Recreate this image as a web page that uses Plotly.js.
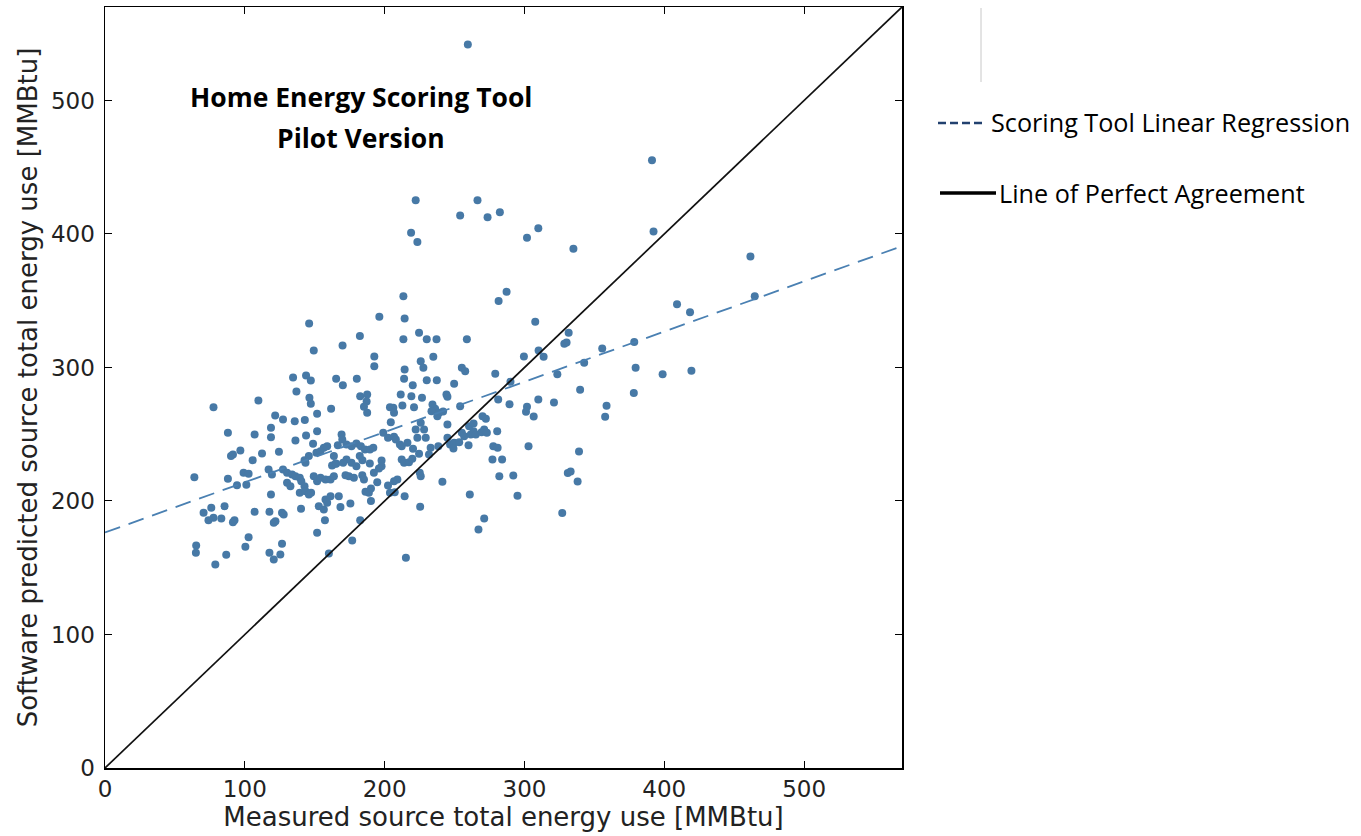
<!DOCTYPE html>
<html>
<head>
<meta charset="utf-8">
<script src="https://cdn.plot.ly/plotly-3.0.1.min.js"></script>
<style>body{margin:0;padding:0;background:#fff;}#chart{width:1361px;height:836px;}</style>
</head>
<body>
<div id="chart"></div>
<script>
// Measured (x) vs software predicted (y) source total energy use [MMBtu]
const pts = [
[391.2,455.3],[392.3,401.9],[461.6,383.1],[464.7,353.4],[409.1,347.4],[418.4,341.4],[419.4,297.5],[398.8,295],[379.5,299.8],[378.5,319],
[378.2,280.8],[355.6,314.2],[358.7,271.3],[357.7,263.1],[342.7,303.5],[339.8,283.3],[331.6,326],[330.1,318.7],[328.5,317.8],[323.5,295],
[321.1,273.8],[307.7,334.2],[313.7,308],[310.1,312.7],[299.6,308.2],[309.9,276],[301.8,270.6],[301.1,266.8],[306.6,263.3],[302.9,241],
[289.3,272.5],[281.2,276],[279.1,295.3],[290,289.3],[287.2,356.7],[281.5,349.7],[335,388.9],[309.9,404.3],[301.8,397.2],[282.4,416.3],
[273.6,412.6],[266.4,425.3],[222.2,425.3],[254,413.9],[218.9,400.9],[223.4,393.9],[213.4,353.4],[214.3,336.7],[224.6,326],[230.1,321.2],
[237.1,321.2],[213.4,321.2],[258.8,321.2],[234.8,308],[225.8,304.7],[227.7,299.8],[214.3,298.5],[213.9,291.5],[230.1,290.5],[237.3,290.5],
[255.2,299.8],[257.6,297.2],[249.7,287.8],[220.1,286.7],[211.5,279.8],[219.1,278.5],[226.7,277.3],[244.2,279.8],[244.9,278],[212.7,271.5],
[221,270.3],[234.2,272.3],[236.1,269.1],[233.5,267.3],[238.9,266.1],[241.8,267],[237.7,263.5],[254,271],[270,263.5],[272.4,261.6],
[280.5,252.3],[216.3,243.6],[220.3,239.1],[222.2,253.6],[228.2,253.6],[223.4,247.3],[229.4,247.3],[225.8,258.6],[232.9,239.8],[238.4,241],
[244.9,247.3],[246.8,242.3],[249.7,243.6],[253.3,244],[255.2,251.1],[256.9,248.5],[260,241.8],[261.6,249.8],[263.6,252.3],[265.2,249.8],
[269.3,251.5],[271.2,253.6],[273.1,251.1],[260.4,256],[263.6,258],[244.9,257.3],[277.7,241],[280.8,239.8],[249.2,239.3],[210.9,242.3],
[212.2,241],[212.2,231.1],[213.9,228.6],[217.4,229.1],[219.8,231.6],[224.6,235.4],[231.7,234.8],
[146,333],[196.2,338],[149.3,312.7],[169.9,316.5],[182.3,323.5],[192.6,308.2],[192.6,301],[134.5,292.5],[143.8,294],[147.2,290.3],
[165.3,291.5],[170.1,286.7],[180.1,291.5],[136.9,282],[146.2,277.3],[147.2,272.8],[161.7,269.1],[151.7,265.3],[182.5,278.5],[187.5,279.8],
[187.1,274.5],[185.2,270.6],[187.5,266.1],[203.8,270.3],[206.2,269.8],[206.7,266.1],
[63.9,217.8],[77.6,270.3],[87.9,251.1],[91.5,234.8],[90.1,233.6],[96.8,237.8],[87.9,216.6],[94.4,211.8],[101.1,212.1],[99.1,221.1],
[102.7,220.4],[105.6,230.6],[107,249.8],[109.7,275.3],[112.3,235.6],[117,223.6],[119.4,219.9],[118.7,204.9],[118.7,247.8],[118.7,254.8],
[124.4,236.9],[121.7,264],[127.3,261],[127.3,223.6],[130.2,221.1],[133.8,219.9],[136.2,218.6],[139.3,217.4],[130.2,213.6],[132.6,211.1],
[140.4,214.8],[142.7,211.1],[139.3,206.1],[143.4,207.3],[145.8,204.9],[147.4,206.1],[142.7,230.6],[145.8,233.6],[143.4,228.6],[136.2,245.3],
[143.8,249.1],[135.7,259.8],[142.9,260.6],[148.8,242.8],[151.7,252.3],[151.2,236.1],[154.1,237.3],[156.5,239.8],[158.9,241],[149.3,218.6],
[151.7,214.8],[154.1,217.4],[157.7,216.1],[161.3,216.1],[163.7,218.6],[152.9,196.1],[157.7,201.1],[161.3,203.6],[167.2,203.6],[158.9,198.6],
[156.5,193.6],[168.4,195.4],[175.5,198.1],[162.4,226.6],[165,228.1],[157.3,185.6],[151.7,176.2],[140.2,194.2],[126.6,191.2],[127.8,189.9],
[121.9,184.9],[120.7,183.7],[117.6,191.9],[107,191.9],[92.6,185.6],[91.5,184.1],[85.5,196.1],[83.2,186.9],[76,194.9],[70.5,191.2],
[77.6,187.4],[74,185.6],[65.2,166.7],[65,161.2],[78.9,152.4],[86.7,159.7],[100.4,165.7],[102.7,172.9],[117.6,161.2],[120.7,156.2],
[125.4,159.9],[126.6,167.9],[160.1,160.7],
[163.7,233.6],[165.3,227.9],[166.5,241.8],[169.2,249.8],[169.7,246.1],[172.7,242.3],[176.3,241],[179.8,243.1],[183,241],[185.9,238.6],
[189.5,238.6],[191.9,239.8],[199,251.1],[202.4,247.3],[206.7,248.1],[208,246.1],[204.4,259],
[197.8,230.3],[197.8,226.1],[195.9,224.3],[192.3,221.1],[189.4,228.1],[184.1,230.6],[182.2,233.6],[179.8,226.1],[176.3,228.6],[172.7,231.1],
[170.3,228.6],[174.4,218.6],[172,219.3],[184,219.3],[185.2,216.1],[178,217.4],[194.7,214.1],[188.7,206.1],[186.3,206.9],[190.2,209.4],
[202.4,211.6],[206.7,214.8],[209.1,216.1],[203.8,206.1],[207.2,206.6],[190.2,199.9],[182.5,185.6],[176.8,170.4],[225.1,221.1],[225.8,218.6],
[225.4,195.7],[214.3,203.6],[215.2,157.5],[241.3,214.4],[260.9,204.9],[271.2,186.9],[267.1,178.7],[277.1,231.1],[282,218.6],
[339,237],[338,214.5],[331,221],[333,222],[327,191],[295,204],[292,219],[284,231],[259.5,542]
];
const measured = pts.map(p => p[0]);
const predicted = pts.map(p => p[1]);

const regX = [0, 570];
const regY = [176.4, 390.9];
const perfX = [0, 570];
const perfY = [0, 570];

const tickVals = [0, 100, 200, 300, 400, 500];
const tickText = ['0', '100', '200', '300', '400', '500'];

const titleLines = ['Home Energy Scoring Tool', 'Pilot Version'];
const legendLabels = ['Scoring Tool Linear Regression', 'Line of Perfect Agreement'];
const xTitle = 'Measured source total energy use [MMBtu]';
const yTitle = 'Software predicted source total energy use [MMBtu]';

const traces = [
  {x: measured, y: predicted, type: 'scatter', mode: 'markers',
   marker: {color: '#4779a6', size: 8, line: {width: 0}}, hoverinfo: 'x+y', showlegend: false},
  {x: regX, y: regY, type: 'scatter', mode: 'lines',
   line: {color: '#4a80b2', width: 1.8, dash: '16px,9px'}, showlegend: false},
  {x: perfX, y: perfY, type: 'scatter', mode: 'lines',
   line: {color: '#111111', width: 1.7}, showlegend: false}
];

const L = 105, R = 902, T = 7, B = 768;
const W = R - L, H = B - T;
const px = v => (v - L) / W;
const py = v => (B - v) / H;

const tickFont = {family: 'DejaVu Sans', size: 23, color: '#222'};
const axTitleFont = {family: 'DejaVu Sans', size: 26, color: '#222'};

const layout = {
  width: 1361, height: 836,
  margin: {l: L, r: 1361 - R, t: T, b: 836 - B},
  paper_bgcolor: '#ffffff', plot_bgcolor: '#ffffff',
  showlegend: false,
  xaxis: {
    range: [0, 570], tickvals: tickVals, ticktext: tickText,
    ticks: 'inside', ticklen: 7, tickwidth: 1, tickcolor: '#000',
    showline: true, linecolor: '#000', linewidth: 1.5, mirror: 'allticks',
    showgrid: false, zeroline: false,
    tickfont: tickFont, ticklabelstandoff: 0,
    title: {text: xTitle, font: axTitleFont, standoff: 2}
  },
  yaxis: {
    range: [0, 570], tickvals: tickVals, ticktext: tickText,
    ticks: 'inside', ticklen: 7, tickwidth: 1, tickcolor: '#000',
    showline: true, linecolor: '#000', linewidth: 1.5, mirror: 'allticks',
    showgrid: false, zeroline: false,
    tickfont: tickFont, ticklabelstandoff: 4,
    title: {text: yTitle, font: axTitleFont, standoff: 6}
  },
  shapes: [
    {type: 'line', xref: 'paper', yref: 'paper', x0: px(938), x1: px(986), y0: py(123), y1: py(123),
     line: {color: '#22416f', width: 2.4, dash: '8px,4px'}},
    {type: 'line', xref: 'paper', yref: 'paper', x0: px(940), x1: px(996), y0: py(193), y1: py(193),
     line: {color: '#000', width: 3.5}},
    {type: 'line', xref: 'paper', yref: 'paper', x0: px(981), x1: px(981), y0: py(8), y1: py(82),
     line: {color: '#c8c8c8', width: 1}}
  ],
  annotations: [
    {xref: 'paper', yref: 'paper', x: px(361), y: py(97), text: '<b>' + titleLines[0] + '</b>',
     showarrow: false, xanchor: 'center', yanchor: 'middle', font: {family: 'Open Sans', size: 26.5, color: '#000'}},
    {xref: 'paper', yref: 'paper', x: px(361), y: py(138), text: '<b>' + titleLines[1] + '</b>',
     showarrow: false, xanchor: 'center', yanchor: 'middle', font: {family: 'Open Sans', size: 26.5, color: '#000'}},
    {xref: 'paper', yref: 'paper', x: px(989), y: py(122), text: legendLabels[0],
     showarrow: false, xanchor: 'left', yanchor: 'middle', font: {family: 'Open Sans', size: 25.2, color: '#000'}},
    {xref: 'paper', yref: 'paper', x: px(997), y: py(193), text: legendLabels[1],
     showarrow: false, xanchor: 'left', yanchor: 'middle', font: {family: 'Open Sans', size: 25.2, color: '#000'}}
  ]
};

Plotly.newPlot('chart', traces, layout, {displayModeBar: false, staticPlot: true});
</script>
</body>
</html>
